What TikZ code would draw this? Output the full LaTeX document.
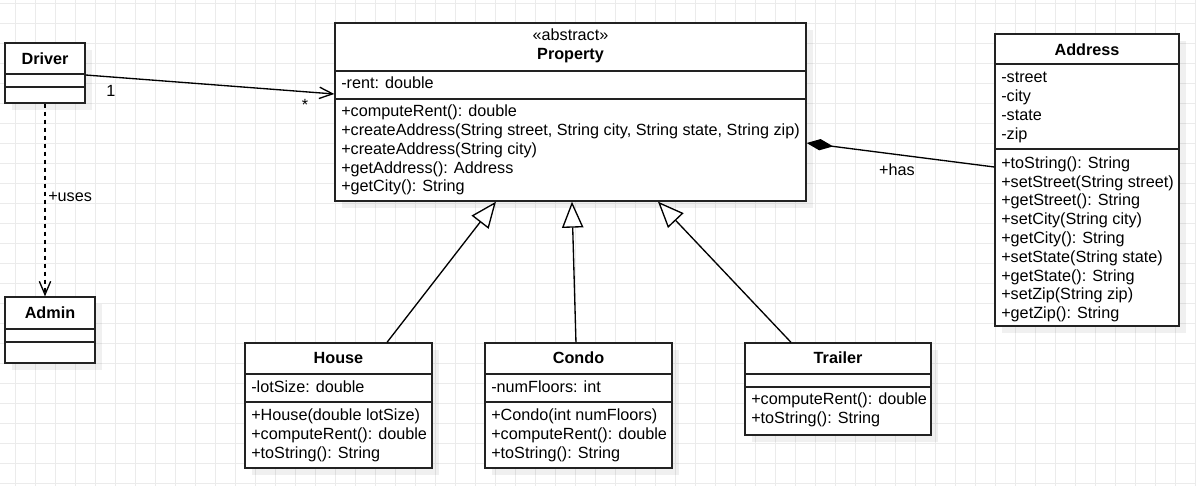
\documentclass[tikz,border=0pt]{standalone}
\usepackage{fontspec}
\setmainfont{Liberation Sans}
\usetikzlibrary{arrows.meta,fit,shadows,calc}
\definecolor{gridc}{HTML}{EBEBEB}
\definecolor{linec}{HTML}{222222}
\tikzset{
  box/.style={draw=linec, line width=1pt, fill=white, inner sep=0pt,
    drop shadow={shadow xshift=5pt, shadow yshift=-5pt, fill=black, opacity=0.06}},
  divider/.style={draw=linec, line width=1pt},
  txt/.style={anchor=base west, inner sep=0pt, font=\fontsize{12.15pt}{14pt}\selectfont},
  ctxt/.style={anchor=base, inner sep=0pt, font=\fontsize{12.15pt}{14pt}\selectfont},
  htxt/.style={anchor=base, inner sep=0pt, font=\fontsize{12.15pt}{14pt}\selectfont\bfseries},
  conn/.style={draw=black, line width=1pt},
  openarrow/.style={-{Straight Barb[length=10pt,width=8.5pt,line width=1pt]}},
  genarrow/.style={-{Triangle[open,length=19.5pt,width=16pt,line width=1pt,fill=white]}},
  comparrow/.style={{Diamond[length=20pt,width=8.5pt]}-},
}
\begin{document}
\begin{tikzpicture}[x=0.75pt,y=-0.75pt]
\fill[white] (0,0) rectangle (1196,486);
\useasboundingbox (0,0) rectangle (1196,486);
% grid
\foreach \gx in {15,35,...,1195} \draw[gridc, line width=0.75pt] (\gx,0) -- (\gx,486);
\foreach \gy in {3,23,...,483} \draw[gridc, line width=0.75pt] (0,\gy) -- (1196,\gy);

% ---------- Driver ----------
\node[box, fit={(5,43) (85,103)}] (driver) {};
\draw[divider] (5,74) -- (85,74);
\draw[divider] (5,87) -- (85,87);
\node[htxt] (drivername) at (45,64.3) {Driver};

% ---------- Admin ----------
\node[box, fit={(5,297) (95,363)}] (admin) {};
\draw[divider] (5,329) -- (95,329);
\draw[divider] (5,342) -- (95,342);
\node[htxt] (adminname) at (50,318.3) {Admin};

% ---------- Property ----------
\node[box, fit={(335,23) (806,201)}] (prop) {};
\draw[divider] (335,71) -- (806,71);
\draw[divider] (335,99) -- (806,99);
\node[ctxt] (propst) at (570.5,40.7) {«abstract»};
\node[htxt] (propname) at (570.5,59.3) {Property};
\node[txt] (pa1) at (341,88.3) {-rent: double};
\node[txt] (pm1) at (341,116.7) {+computeRent(): double};
\node[txt] (pm2) at (341,135.5) {+createAddress(String street, String city, String state, String zip)};
\node[txt] (pm3) at (341,154.3) {+createAddress(String city)};
\node[txt] (pm4) at (341,173.1) {+getAddress(): Address};
\node[txt] (pm5) at (341,191.9) {+getCity(): String};

% ---------- Address ----------
\node[box, fit={(995,34) (1179,326)}] (addr) {};
\draw[divider] (995,64) -- (1179,64);
\draw[divider] (995,149) -- (1179,149);
\node[htxt] (addrname) at (1087,55) {Address};
\node[txt] (aa1) at (1001,82.7) {-street};
\node[txt] (aa2) at (1001,101.5) {-city};
\node[txt] (aa3) at (1001,120.3) {-state};
\node[txt] (aa4) at (1001,139.1) {-zip};
\node[txt] (am1) at (1001,168.3) {+toString(): String};
\node[txt] (am2) at (1001,187.1) {+setStreet(String street)};
\node[txt] (am3) at (1001,205.9) {+getStreet(): String};
\node[txt] (am4) at (1001,224.7) {+setCity(String city)};
\node[txt] (am5) at (1001,243.5) {+getCity(): String};
\node[txt] (am6) at (1001,262.3) {+setState(String state)};
\node[txt] (am7) at (1001,281.1) {+getState(): String};
\node[txt] (am8) at (1001,299.9) {+setZip(String zip)};
\node[txt] (am9) at (1001,318.7) {+getZip(): String};

% ---------- House ----------
\node[box, fit={(245,343) (432,468)}] (house) {};
\draw[divider] (245,374) -- (432,374);
\draw[divider] (245,402) -- (432,402);
\node[htxt] (housename) at (338.5,363.3) {House};
\node[txt] (ha1) at (251,392.3) {-lotSize: double};
\node[txt] (hm1) at (251,420.7) {+House(double lotSize)};
\node[txt] (hm2) at (251,439.5) {+computeRent(): double};
\node[txt] (hm3) at (251,458.3) {+toString(): String};

% ---------- Condo ----------
\node[box, fit={(485,343) (672,468)}] (condo) {};
\draw[divider] (485,374) -- (672,374);
\draw[divider] (485,402) -- (672,402);
\node[htxt] (condoname) at (578.5,363.3) {Condo};
\node[txt] (ca1) at (491,392.3) {-numFloors: int};
\node[txt] (cm1) at (491,420.7) {+Condo(int numFloors)};
\node[txt] (cm2) at (491,439.5) {+computeRent(): double};
\node[txt] (cm3) at (491,458.3) {+toString(): String};

% ---------- Trailer ----------
\node[box, fit={(745,343) (931,435)}] (trailer) {};
\draw[divider] (745,374) -- (931,374);
\draw[divider] (745,387) -- (931,387);
\node[htxt] (trailername) at (838,363.3) {Trailer};
\node[txt] (tm1) at (751,404.3) {+computeRent(): double};
\node[txt] (tm2) at (751,423.1) {+toString(): String};

% ---------- Connectors ----------
% Driver -> Property (association)
\draw[conn, openarrow] ([yshift=-1.5pt]driver.east) -- ([yshift=13.5pt]prop.west);
\node[ctxt] (lbl1) at (111,96.5) {1};
\node[ctxt] (lblstar) at (305,110) {*};

% Driver -> Admin (dependency)
\draw[conn, openarrow, dash pattern=on 3pt off 3pt] (driver.south) -- (driver.south |- admin.north);
\node[txt] (lbluses) at (48,201) {+uses};

% Property <>-- Address (composition)
\draw[conn, comparrow] ([yshift=-23.25pt]prop.east) -- ([yshift=9.75pt]addr.west);
\node[ctxt] (lblhas) at (897,175) {+has};

% Generalizations
\draw[conn, genarrow] ([xshift=36.4pt]house.north) -- ([xshift=-55.9pt]prop.south);
\draw[conn, genarrow] ([xshift=-1.9pt]condo.north) -- ([xshift=1.1pt]prop.south);
\draw[conn, genarrow] ([xshift=-35.25pt]trailer.north) -- ([xshift=65.6pt]prop.south);
\end{tikzpicture}
\end{document}
